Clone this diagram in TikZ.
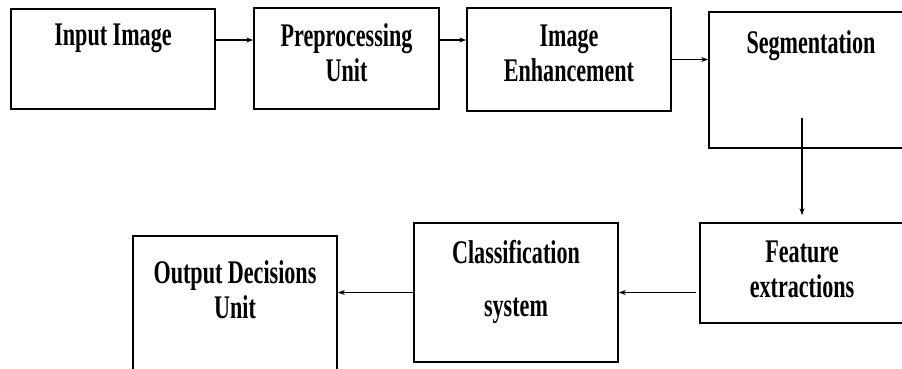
\documentclass[tikz,border=0pt]{standalone}
\usepackage{fontspec}
\setmainfont{Liberation Serif}[FakeStretch=0.67]
\usetikzlibrary{arrows.meta,calc,positioning}

\begin{document}
\begin{tikzpicture}[
    x=1pt, y=1pt,
    blk/.style={draw, line width=1.7pt, inner sep=0pt, minimum width=204pt},
    txt/.style={anchor=north, inner sep=0pt, align=center,
      font={\fontsize{33}{35}\selectfont\bfseries}},
    arr/.style={-{Stealth[length=7pt,width=5pt]}, line width=1.1pt},
  ]
  \useasboundingbox (0,0) rectangle (902,-368);

  \node[blk, minimum height=100pt] (inp) at (113,-59) {};
  \node[blk, minimum width=185pt, minimum height=101pt] (pre) at (346.5,-58.5) {};
  \node[blk, minimum height=103pt] (enh) at (569,-59.5) {};
  \node[blk, minimum height=136pt] (seg) at (811,-80) {};
  \node[blk, minimum height=100pt] (feat) at (802,-273) {};
  \node[blk, minimum height=139pt] (cls) at (516,-292.5) {};
  \node[blk, minimum height=164pt] (outp) at (235,-318) {};

  \node[txt, below=16pt of inp.north] (inptxt) {Input Image};
  \node[txt, below=16pt of pre.north] (pretxt) {Preprocessing\\Unit};
  \node[txt, below=18pt of enh.north] (enhtxt) {Image\\Enhancement};
  \node[txt, below=19pt of seg.north] (segtxt) {Segmentation};
  \node[txt, below=19pt of feat.north] (feattxt) {Feature\\extractions};
  \node[txt, below=18pt of cls.north] (clstxt) {Classification\\[18pt]system};
  \node[txt, below=25pt of outp.north] (outtxt) {Output Decisions\\Unit};

  \coordinate (toprow) at (0,-40);
  \draw[arr] (inp.east |- toprow) -- (pre.west |- toprow);
  \draw[arr] (pre.east |- toprow) -- (enh.west |- toprow);
  \draw[arr] (enh.east) -- (enh.east -| seg.west);
  \draw[arr, shorten >=7pt] ($(feat.north |- seg.south)+(0,31)$) -- (feat.north);
  \draw[arr] ([xshift=-3pt]feat.west |- cls) -- (cls.east);
  \draw[arr] (cls.west) -- (cls.west -| outp.east);
\end{tikzpicture}
\end{document}
